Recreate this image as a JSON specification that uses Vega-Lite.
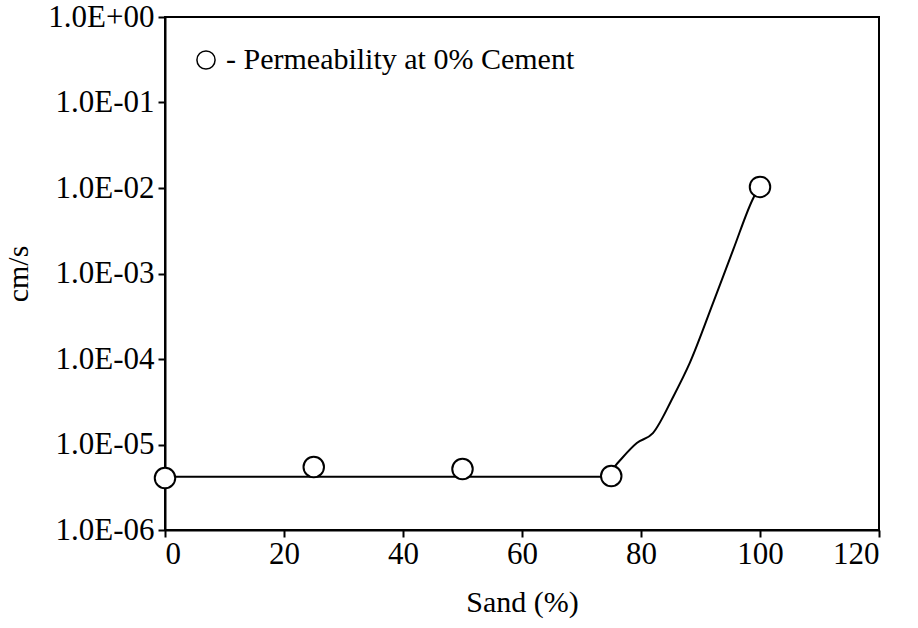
{
  "$schema": "https://vega.github.io/schema/vega-lite/v6.json",
  "width": 714,
  "height": 513,
  "padding": {"left": 165, "top": 17, "right": 39, "bottom": 98},
  "autosize": {"type": "none"},
  "background": "white",
  "config": {
    "font": "Liberation Serif",
    "view": {"stroke": "black", "strokeWidth": 2},
    "axis": {"grid": false, "domainColor": "black", "domainWidth": 2, "tickColor": "black", "tickWidth": 2, "tickSize": 7, "labelFont": "Liberation Serif", "labelFontSize": 31, "labelColor": "black", "titleFont": "Liberation Serif", "titleFontSize": 30, "titleFontWeight": "normal", "titleColor": "black"}
  },
  "datasets": {
    "points": [
      {"sand": 0, "perm": 4.06e-6, "series": "Permeability at 0% Cement"},
      {"sand": 25, "perm": 5.46e-6, "series": "Permeability at 0% Cement"},
      {"sand": 50, "perm": 5.16e-6, "series": "Permeability at 0% Cement"},
      {"sand": 75, "perm": 4.28e-6, "series": "Permeability at 0% Cement"},
      {"sand": 100, "perm": 1.03e-2, "series": "Permeability at 0% Cement"}
    ],
    "curve": [
      {"sand": 0, "perm": 4.2e-6},
      {"sand": 74, "perm": 4.2e-6},
      {"sand": 76, "perm": 6.0e-6},
      {"sand": 79.3, "perm": 1.04e-5},
      {"sand": 82, "perm": 1.36e-5},
      {"sand": 85.4, "perm": 3.6e-5},
      {"sand": 88.2, "perm": 9.0e-5},
      {"sand": 92.1, "perm": 4.5e-4},
      {"sand": 95.5, "perm": 1.9e-3},
      {"sand": 98.7, "perm": 7.2e-3},
      {"sand": 99.5, "perm": 9.3e-3}
    ]
  },
  "layer": [
    {
      "data": {"name": "curve"},
      "mark": {"type": "line", "color": "black", "strokeWidth": 2, "interpolate": "monotone"},
      "encoding": {
        "x": {"field": "sand", "type": "quantitative", "scale": {"domain": [0, 120], "nice": false}, "axis": {"title": "Sand (%)", "values": [0, 20, 40, 60, 80, 100, 120], "labelPadding": 2, "titlePadding": 18}},
        "y": {"field": "perm", "type": "quantitative", "scale": {"type": "log", "domain": [1e-6, 1], "nice": false}, "axis": {"title": "cm/s", "values": [1e-6, 1e-5, 1e-4, 1e-3, 1e-2, 1e-1, 1], "labelExpr": "datum.value >= 1 ? '1.0E+00' : '1.0E-0' + format(-log(datum.value)/LN10, '.0f')", "labelPadding": 4, "titlePadding": 14}}
      }
    },
    {
      "data": {"name": "points"},
      "mark": {"type": "point", "shape": "circle", "filled": true, "fill": "white", "stroke": "black", "strokeWidth": 2, "size": 420, "opacity": 1},
      "encoding": {
        "x": {"field": "sand", "type": "quantitative"},
        "y": {"field": "perm", "type": "quantitative"},
        "shape": {"field": "series", "type": "nominal", "scale": {"range": ["circle"]}, "legend": {"title": null, "orient": "none", "legendX": 26, "legendY": 28, "labelExpr": "'- ' + datum.label", "labelFontSize": 30, "labelFont": "Liberation Serif", "labelColor": "black", "labelLimit": 1000, "symbolType": "circle", "symbolSize": 330, "labelOffset": 5, "padding": 0, "encode": {"symbols": {"update": {"fill": {"value": "white"}, "stroke": {"value": "black"}, "strokeWidth": {"value": 2}, "opacity": {"value": 1}, "fillOpacity": {"value": 1}, "strokeOpacity": {"value": 1}}}}}}
      }
    }
  ]
}
